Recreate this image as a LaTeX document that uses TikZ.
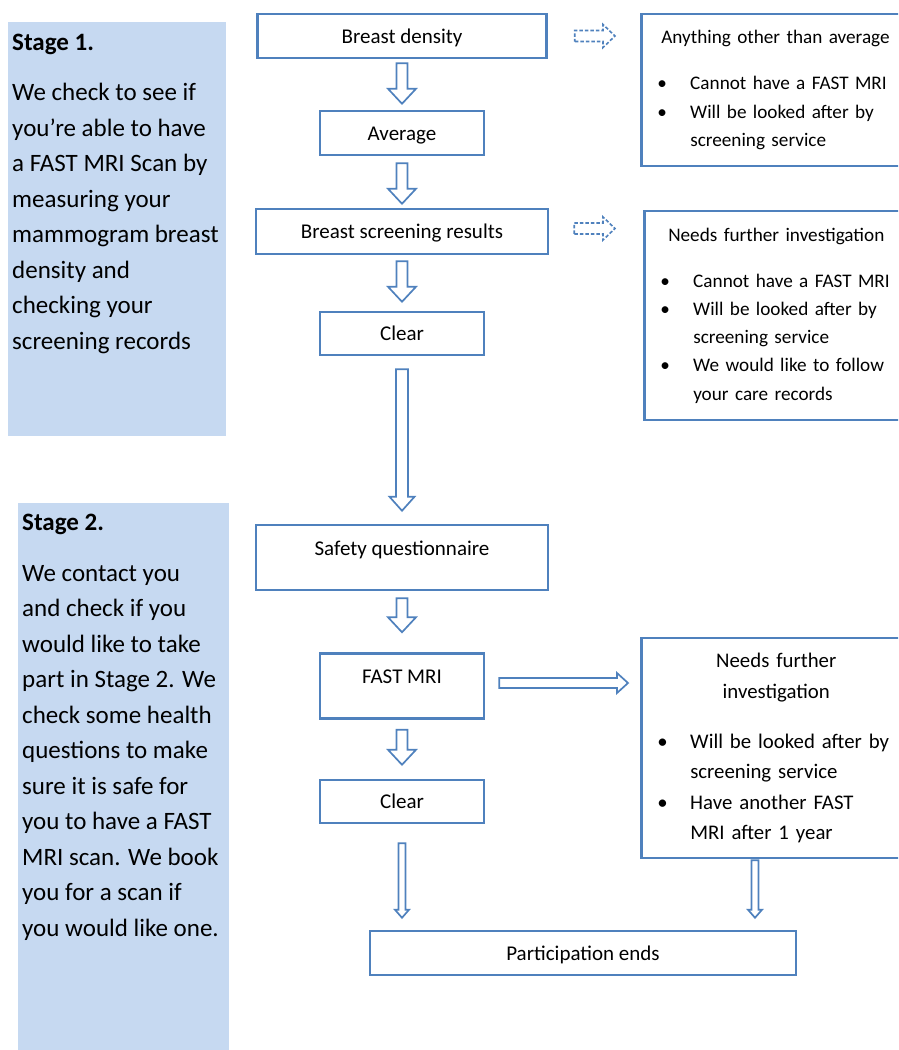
\documentclass[tikz,border=0pt]{standalone}
\usepackage{fontspec}
\setmainfont{Carlito}
\usetikzlibrary{calc}
\definecolor{boxblue}{HTML}{4F81BD}
\definecolor{stagefill}{HTML}{C6D9F1}
\newcommand{\blt}{\makebox[33pt][l]{\textbullet}}
\newcommand{\bind}{\hspace*{33pt}}

\begin{document}
\begin{tikzpicture}[x=1pt,y=-1pt,
  box/.style={draw=boxblue,line width=2.5pt,fill=white,minimum height=44pt,inner sep=0pt,
    text height=18pt,text depth=4pt,font=\fontsize{21}{25}\selectfont},
  tallbox/.style={box,minimum height=65pt,text height=30pt,text depth=35pt},
  sidebox/.style={draw=boxblue,line width=2.5pt,fill=white,text width=248pt,inner xsep=16pt,
    inner ysep=0pt,align=left,font=\fontsize{19.2}{28.2}\selectfont},
  stagetitle/.style={anchor=base west,inner sep=0pt,font=\fontsize{25}{30}\selectfont\bfseries},
  stagetext/.style={anchor=north west,inner sep=0pt,align=left,font=\fontsize{25}{35.5}\selectfont},
  downarr/.style n args={3}{draw=boxblue,line width=1.7pt,fill=white,
    to path={let \p1=(\tikztostart),\p2=(\tikztotarget) in
      (\x1-#1,\y1)--(\x1-#1,\y2+#3)--(\x1-#2,\y2+#3)--(\x1,\y2)--(\x1+#2,\y2+#3)--(\x1+#1,\y2+#3)--(\x1+#1,\y1)--cycle}},
  rightarr/.style n args={3}{draw=boxblue,line width=1.7pt,fill=white,
    to path={let \p1=(\tikztostart),\p2=(\tikztotarget) in
      (\x1,\y1-#1)--(\x2-#3,\y1-#1)--(\x2-#3,\y1-#2)--(\x2,\y1)--(\x2-#3,\y1+#2)--(\x2-#3,\y1+#1)--(\x1,\y1+#1)--cycle}}]
\useasboundingbox (0,0) rectangle (898,1050);
\clip (0,0) rectangle (898,1050);

% stage panels
\fill[stagefill] (8,22) rectangle (226,436);
\fill[stagefill] (18,503) rectangle (229,1060);
\node[stagetitle] (s1title) at (12,50) {Stage 1.};
\node[stagetext] (s1text) at (12,83) {We check to see if\\you’re able to have\\a FAST MRI Scan by\\measuring your\\mammogram breast\\density and\\checking your\\screening records};
\node[stagetitle] (s2title) at (22,530) {Stage 2.};
\node[stagetext] (s2text) at (22,565) {We contact you\\and check if you\\would like to take\\part in Stage 2. We\\check some health\\questions to make\\sure it is safe for\\you to have a FAST\\MRI scan. We book\\you for a scan if\\you would like one.};

% main column
\node[box,minimum width=289pt] (dens) at (402,36) {Breast density};
\node[box,minimum width=164pt] (avg) at (402,133) {Average};
\node[box,minimum width=292pt,minimum height=45pt] (scr) at (402,231.5) {Breast screening results};
\node[box,minimum width=164pt,minimum height=43pt] (clr1) at (402,333.5) {Clear};
\node[tallbox,minimum width=292pt] (safe) at (402,557.5) {Safety questionnaire};
\node[tallbox,minimum width=164pt,minimum height=64pt] (mri) at (402,686) {FAST MRI};
\node[box,minimum width=164pt,minimum height=43pt] (clr2) at (402,801.5) {Clear};
\node[box,minimum width=426pt] (part) at (583,953) {Participation ends};

% side boxes
\node[sidebox,minimum height=152pt,anchor=west] (other) at (640,90)
  {\hspace*{4pt}Anything other than average\\[18pt]\blt Cannot have a FAST MRI\\\blt Will be looked after by\\\bind screening service};
\node[sidebox,minimum height=209pt,anchor=west] (further1) at (643,315.5)
  {\hspace*{8pt}Needs further investigation\\[18pt]\blt Cannot have a FAST MRI\\\blt Will be looked after by\\\bind screening service\\\blt We would like to follow\\\bind your care records};
\node[sidebox,minimum height=220pt,anchor=west,font=\fontsize{20.8}{30.3}\selectfont] (further2) at (640,748)
  {\makebox[238pt]{Needs further}\\\makebox[238pt]{investigation}\\[20pt]\blt Will be looked after by\\\bind screening service\\\blt Have another FAST\\\bind MRI after 1 year};

% arrows
\draw[downarr={5.5pt}{14pt}{15pt}] ([yshift=-4pt]dens.south) to ([yshift=6pt]avg.north);
\draw[downarr={5.5pt}{14pt}{15pt}] ([yshift=-7pt]avg.south) to ([yshift=4pt]scr.north);
\draw[downarr={5.5pt}{14pt}{15pt}] ([yshift=-6pt]scr.south) to ([yshift=9pt]clr1.north);
\draw[downarr={6pt}{12.5pt}{14pt}] ([yshift=-13pt]clr1.south) to ([yshift=13pt]safe.north);
\draw[downarr={5.5pt}{14pt}{15pt}] ([yshift=-7pt]safe.south) to ([yshift=20pt]mri.north);
\draw[downarr={5.5pt}{14pt}{15pt}] ([yshift=-10pt]mri.south) to ([yshift=14pt]clr2.north);
\draw[downarr={3.5pt}{7pt}{8pt}] ([yshift=-19pt]clr2.south) to ([yshift=12pt]part.north);
\draw[downarr={3.5pt}{7pt}{8pt}] ($(further2.south west)+(115pt,-1pt)$) to ([yshift=12pt]part.north);
\draw[rightarr={5pt}{10pt}{11pt}] ([xshift=14pt,yshift=3pt]mri.east) to ([xshift=-12pt]further2.west);
\draw[rightarr={5.5pt}{11.5pt}{12pt},line width=1.6pt,dash pattern=on 3.5pt off 2pt] ([xshift=27pt]dens.east) to ([xshift=-25pt]other.west);
\draw[rightarr={5.5pt}{11.5pt}{12pt},line width=1.6pt,dash pattern=on 3.5pt off 2pt] ([xshift=25pt,yshift=3pt]scr.east) to ([xshift=-28pt]further1.west);
\end{tikzpicture}
\end{document}
